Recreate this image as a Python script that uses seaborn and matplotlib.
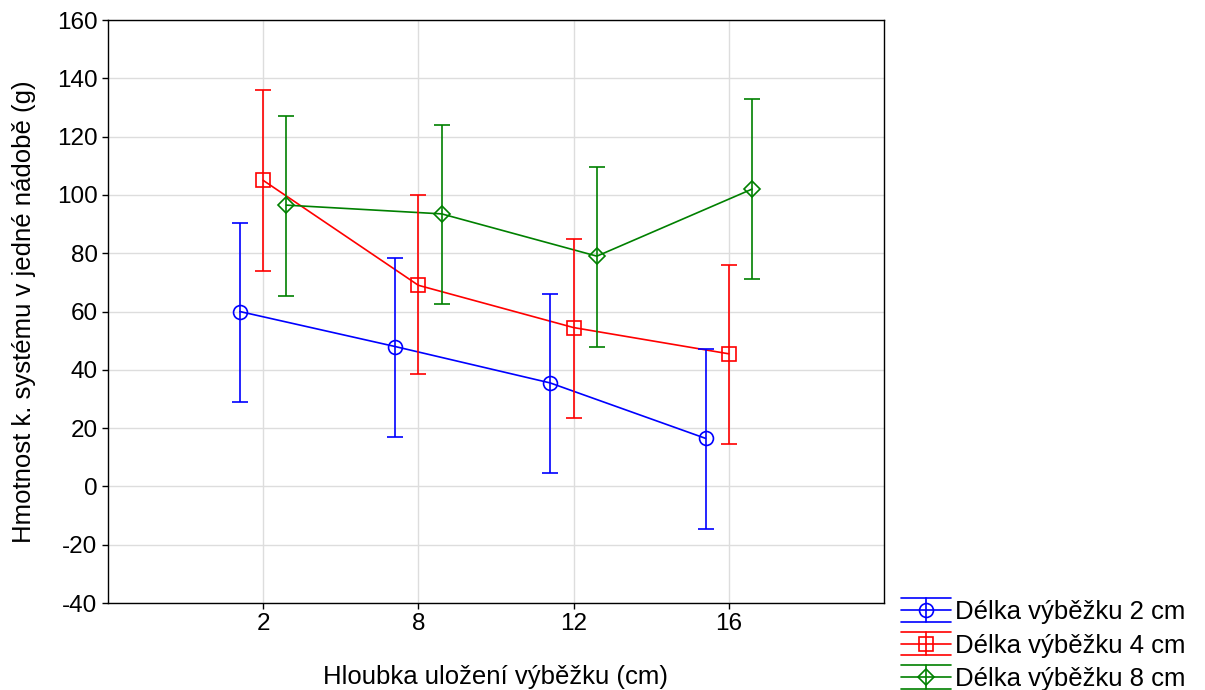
import matplotlib
matplotlib.use("Agg")
import matplotlib.pyplot as plt
from matplotlib.legend_handler import HandlerBase
from matplotlib.lines import Line2D
import numpy as np
import pandas as pd
import seaborn as sns

# ---------------------------------------------------------------------------
# data (means and error-bar limits)
# ---------------------------------------------------------------------------
depths = ["2", "8", "12", "16"]
groups = ["Délka výběžku 2 cm", "Délka výběžku 4 cm", "Délka výběžku 8 cm"]

mean_2cm = [60.0, 48.0, 35.5, 16.5]
low_2cm = [29.0, 17.0, 4.5, -14.5]
high_2cm = [90.5, 78.5, 66.0, 47.0]

mean_4cm = [105.0, 69.0, 54.5, 45.5]
low_4cm = [74.0, 38.5, 23.5, 14.5]
high_4cm = [136.0, 100.0, 85.0, 76.0]

mean_8cm = [96.5, 93.5, 79.0, 102.0]
low_8cm = [65.5, 62.5, 48.0, 71.0]
high_8cm = [127.0, 124.0, 109.5, 133.0]

colors = ["#0000ff", "#ff0000", "#008000"]
markers = ["o", "s", "D"]
msizes = [10, 10, 8.5]
LW = 1.2

means = [mean_2cm, mean_4cm, mean_8cm]
lows = [low_2cm, low_4cm, low_8cm]
highs = [high_2cm, high_4cm, high_8cm]

df = pd.DataFrame({
    "depth": depths * len(groups),
    "group": np.repeat(groups, len(depths)),
    "value": np.concatenate(means),
})


class ErrBoxHandler(HandlerBase):
    """Legend key: three horizontal rules, a vertical bar and the marker."""

    def __init__(self, marker, ms):
        super().__init__()
        self.marker = marker
        self.ms = ms

    def create_artists(self, legend, orig_handle, xdescent, ydescent,
                       width, height, fontsize, trans):
        col = orig_handle.get_color()
        x0, x1 = -xdescent, -xdescent + width
        xm = (x0 + x1) / 2
        yc = -ydescent + height / 2
        h = height * 0.66
        arts = []
        for yy in (yc - h, yc, yc + h):
            arts.append(Line2D([x0, x1], [yy, yy], color=col, lw=LW))
        arts.append(Line2D([xm, xm], [yc - h, yc + h], color=col, lw=LW))
        arts.append(Line2D([xm], [yc], marker=self.marker, ms=self.ms,
                           mfc="none", mec=col, mew=LW, ls="none"))
        for a in arts:
            a.set_transform(trans)
        return arts


sns.set_style("white")
plt.rcParams["font.family"] = ["Liberation Sans", "DejaVu Sans"]
plt.rcParams["axes.unicode_minus"] = False
plt.rcParams["text.color"] = "black"
plt.rcParams["axes.labelcolor"] = "black"
plt.rcParams["xtick.color"] = "black"
plt.rcParams["ytick.color"] = "black"

fig = plt.figure(figsize=(12.05, 6.9), dpi=100)
ax = fig.add_axes([0.0896, 0.126, 0.644, 0.845])

sns.pointplot(
    data=df, x="depth", y="value", hue="group", order=depths, hue_order=groups,
    palette=colors, markers=markers, linestyles="-", dodge=0.3, errorbar=None,
    linewidth=LW, ax=ax, legend=False,
)

# open markers and error bars at the dodged positions seaborn chose
handles = []
for line, col, mk, ms, lo, hi, mu in zip(ax.lines[:3], colors, markers, msizes,
                                          lows, highs, means):
    line.set_marker("none")
    xs = np.asarray(line.get_xdata(), dtype=float)
    mu = np.asarray(mu)
    yerr = [mu - np.asarray(lo), np.asarray(hi) - mu]
    ax.errorbar(xs, mu, yerr=yerr, fmt=mk, color=col, ms=ms,
                mfc="none", mec=col, mew=LW, elinewidth=LW,
                capsize=6, capthick=LW, zorder=4)
    handles.append(Line2D([], [], color=col))

ax.set_xlim(-1, 4)
ax.set_ylim(-40, 160)
ax.set_yticks(np.arange(-40, 161, 20))
ax.grid(True, color="#dddddd", linewidth=1)
ax.set_axisbelow(True)
for s in ax.spines.values():
    s.set_visible(True)
    s.set_color("black")
    s.set_linewidth(1)
ax.tick_params(axis="both", direction="out", length=4, width=1, color="black",
               labelsize=17.5, left=True, bottom=True)
ax.set_xlabel("Hloubka uložení výběžku (cm)", fontsize=18.5, labelpad=21)
ax.set_ylabel("Hmotnost k. systému v jedné nádobě (g)", fontsize=18.5, labelpad=15)

fig.legend(handles, groups, loc="lower left", bbox_to_anchor=(0.739, -0.016),
           frameon=False, fontsize=18.5, handlelength=1.95, handletextpad=0.15,
           labelspacing=0.36, borderaxespad=0.0,
           handler_map={h: ErrBoxHandler(m, s)
                        for h, m, s in zip(handles, markers, msizes)})

fig.savefig("out.png", dpi=100)
plt.close(fig)
